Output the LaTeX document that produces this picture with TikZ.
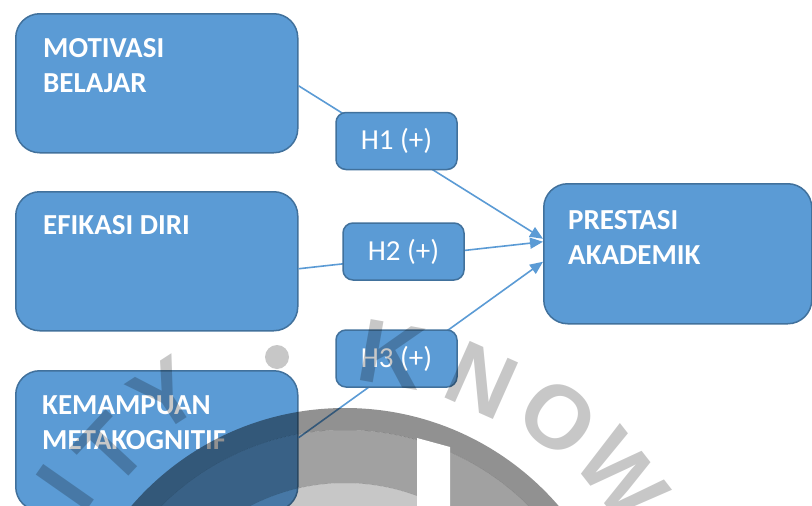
\documentclass[tikz,border=0pt]{standalone}
\usepackage{fontspec}
\usetikzlibrary{arrows.meta,calc}
\newfontfamily\carlito{Carlito}
\newfontfamily\wmfont{Liberation Sans}
\definecolor{boxblue}{HTML}{5B9BD5}
\definecolor{boxedge}{HTML}{41719C}
\definecolor{lineblue}{HTML}{5B9BD5}
\tikzset{
  bigbox/.style={draw=boxedge, fill=boxblue, line width=1.5pt, rounded corners=24pt,
    inner sep=0pt, anchor=north west},
  hbox/.style={draw=boxedge, fill=boxblue, line width=1.5pt, rounded corners=10pt,
    inner sep=0pt, minimum width=121pt, minimum height=57pt, text=white,
    font=\carlito\fontsize{29}{34}\selectfont},
  title/.style={anchor=north west, inner sep=0pt, align=left, text=white,
    font=\carlito\bfseries\fontsize{29}{35}\selectfont},
  link/.style={draw=lineblue, line width=1.6pt, -{Triangle[length=13pt,width=11pt]}},
  wmletter/.style={inner sep=0pt, text=black, text opacity=.22,
    font=\wmfont\bfseries\fontsize{90}{90}\selectfont},
}
\begin{document}
\begin{tikzpicture}[x=1pt,y=-1pt]
  \useasboundingbox (0,0) rectangle (812,506);
  \fill[white] (0,0) rectangle (812,506);

  % variable boxes
  \node[bigbox, minimum width=282pt, minimum height=139pt] (mot) at (15,13) {};
  \node[bigbox, minimum width=282pt, minimum height=139pt] (eff) at (15,191) {};
  \node[bigbox, minimum width=282pt, minimum height=140pt] (kem) at (15,370) {};
  \node[bigbox, minimum width=268pt, minimum height=140pt] (pre) at (543,183) {};

  \node[title] (motT) at (43,38) {MOTIVASI\\BELAJAR};
  \node[title] (effT) at (43,215) {EFIKASI DIRI};
  \node[title] (kemT) at (42,395) {KEMAMPUAN\\METAKOGNITIF};
  \node[title] (preT) at (568,210) {PRESTASI\\AKADEMIK};

  % paths of influence
  \draw[link] ($(mot.east)+(0,2.5)$) -- ($(pre.west)+(0,-15)$);
  \draw[link] ($(eff.east)+(0,7.5)$) -- ($(pre.west)+(0,-12)$);
  \draw[link] ($(kem.east)+(0,-3)$) -- ($(pre.west)+(0,8)$);

  % hypothesis labels
  \node[hbox] (h1) at (396.5,141) {H1 (+)};
  \node[hbox] (h2) at (403.5,251.5) {H2 (+)};
  \node[hbox] (h3) at (396.5,358.5) {H3 (+)};

  % watermark seal
  \fill[black, fill opacity=.43, even odd rule]
    (345,690) circle (282pt) (345,690) circle (260pt);
  \fill[black, fill opacity=.37, even odd rule]
    (345,690) circle (260pt) (345,690) circle (207pt);
  \fill[black, fill opacity=.22] (345,690) circle (207pt);
  \fill[white] (417,438) -- (450,447) -- (450,512) -- (417,512) -- cycle;
  \fill[black, fill opacity=.22] (277,357) circle (12pt);
  \node[wmletter, rotate=55] (wI) at (65,487) {I};
  \node[wmletter, rotate=47] (wT) at (111,450) {T};
  \node[wmletter, rotate=33] (wY) at (165,395) {Y};
  \node[wmletter, rotate=-10] (wK) at (392,355) {K};
  \node[wmletter, rotate=-24] (wN) at (482,380) {N};
  \node[wmletter, rotate=-38] (wO) at (558,418) {O};
  \node[wmletter, rotate=-52] (wW) at (622,476) {W};
\end{tikzpicture}
\end{document}
